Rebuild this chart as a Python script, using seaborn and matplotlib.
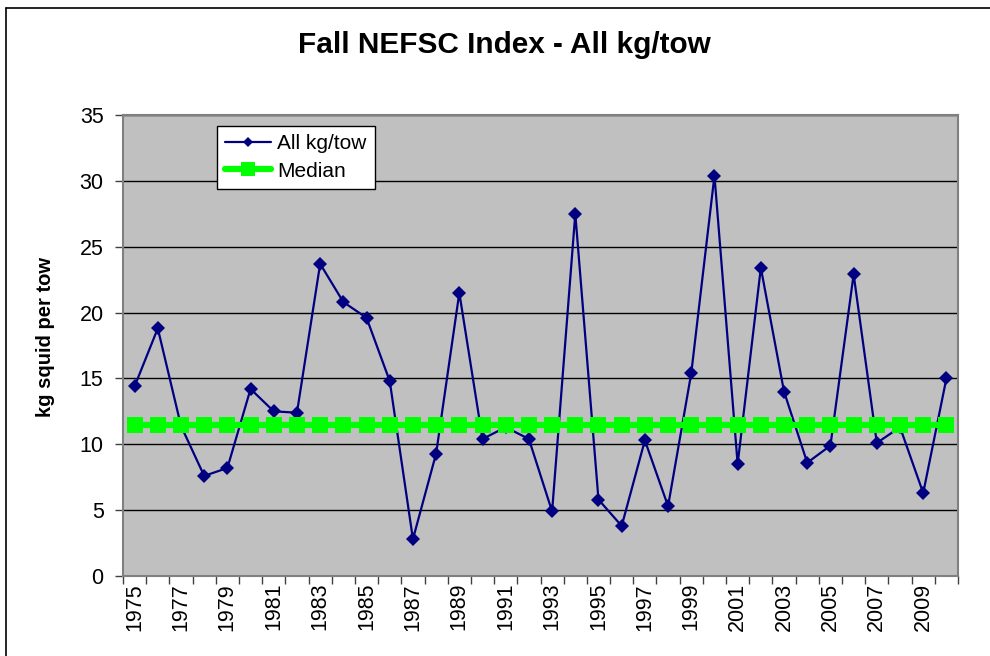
import matplotlib
matplotlib.use("Agg")
import matplotlib.pyplot as plt
import seaborn as sns
import pandas as pd
from matplotlib.lines import Line2D

YEARS = list(range(1975, 2011))

# fall NEFSC survey, all kg/tow
ALL_KG_TOW = [14.4, 18.8, 11.4, 7.6, 8.2, 14.2, 12.5, 12.4, 23.7, 20.8,
              19.6, 14.8, 2.8, 9.3, 21.5, 10.4, 11.3, 10.4, 4.9, 27.5,
              5.8, 3.8, 10.3, 5.3, 15.4, 30.4, 8.5, 23.4, 14.0, 8.6,
              9.9, 22.9, 10.1, 11.3, 6.3, 15.0]
MEDIAN_KG = 11.45

Y_TICKS = [0, 5, 10, 15, 20, 25, 30, 35]
X_LABELS = [str(y) for y in YEARS[::2]]

W, H = 990, 656

sns.set_theme(style="white")
plt.rcParams['font.family'] = ['Liberation Sans', 'DejaVu Sans']
plt.rcParams['text.color'] = 'black'
plt.rcParams['xtick.color'] = 'black'
plt.rcParams['ytick.color'] = 'black'

df = pd.DataFrame({
    'pos': range(len(YEARS)),
    'year': YEARS,
    'kg': ALL_KG_TOW,
    'median': [MEDIAN_KG] * len(YEARS),
})

fig = plt.figure(figsize=(W / 100, H / 100), dpi=100)
fig.patch.set_facecolor('white')
ax = fig.add_axes([123 / W, 1 - 576 / H, 835 / W, 461 / H])
ax.set_facecolor('#C0C0C0')

sns.lineplot(data=df, x='pos', y='kg', ax=ax, color='#000080', lw=1.6,
             marker='D', markersize=7.5, markeredgewidth=0, label='All kg/tow',
             zorder=3)
# median drawn over the data line, like the original
sns.lineplot(data=df, x='pos', y='median', ax=ax, color='#00FF00', lw=4.5,
             marker='s', markersize=11.5, markeredgewidth=0, label='Median',
             zorder=4)

ax.set_xlim(-0.5, len(YEARS) - 0.5)
ax.set_ylim(0, 35)
ax.set_yticks(Y_TICKS)
ax.yaxis.grid(True, color='black', lw=1)
ax.xaxis.grid(False)
ax.set_axisbelow(True)

# category boundaries get the tick marks, labels sit at the centres
ax.set_xticks([i - 0.5 for i in range(len(YEARS) + 1)])
ax.set_xticklabels([])
ax.set_xticks(list(range(0, len(YEARS), 2)), minor=True)
ax.set_xticklabels(X_LABELS, minor=True, rotation=90, fontsize=15.5)
ax.tick_params(axis='x', which='major', length=6, width=1, color='#404040',
               direction='out', bottom=True)
ax.tick_params(axis='x', which='minor', length=0, pad=5)
ax.tick_params(axis='y', length=6, width=1, color='#404040', direction='out',
               left=True, pad=8, labelsize=15.5)

for side in ['left', 'bottom', 'right', 'top']:
    ax.spines[side].set_visible(True)
    ax.spines[side].set_color('#808080')
    ax.spines[side].set_linewidth(1.5)

ax.set_xlabel('')
ax.set_ylabel('')
fig.text(46 / W, 1 - 337 / H, 'kg squid per tow', rotation=90, ha='center',
         va='center', fontsize=14.5, fontweight='bold')
fig.text(504 / W, 1 - 45 / H, 'Fall NEFSC Index - All kg/tow', ha='center',
         va='center', fontsize=21.4, fontweight='bold')

handles, labels = ax.get_legend_handles_labels()
leg = ax.legend(handles, labels,
                loc='upper left', bbox_to_anchor=((217 - 123) / 835, (576 - 126) / 461),
                borderaxespad=0, frameon=True, fancybox=False, framealpha=1,
                edgecolor='black', fontsize=15, handlelength=2.2,
                labelspacing=0.4, borderpad=0.4, handletextpad=0.3)
leg.get_frame().set_linewidth(1.0)
leg.legend_handles[0].set_markersize(5.5)
leg.legend_handles[1].set_markersize(9.5)

# outer chart border (runs off the right and bottom edges)
fig.add_artist(Line2D([6 / W, 6 / W], [0, 1 - 8 / H], color='black', lw=1.2,
                      transform=fig.transFigure))
fig.add_artist(Line2D([6 / W, 1], [1 - 8 / H, 1 - 8 / H], color='black', lw=1.2,
                      transform=fig.transFigure))

fig.savefig('out.png', dpi=100)
